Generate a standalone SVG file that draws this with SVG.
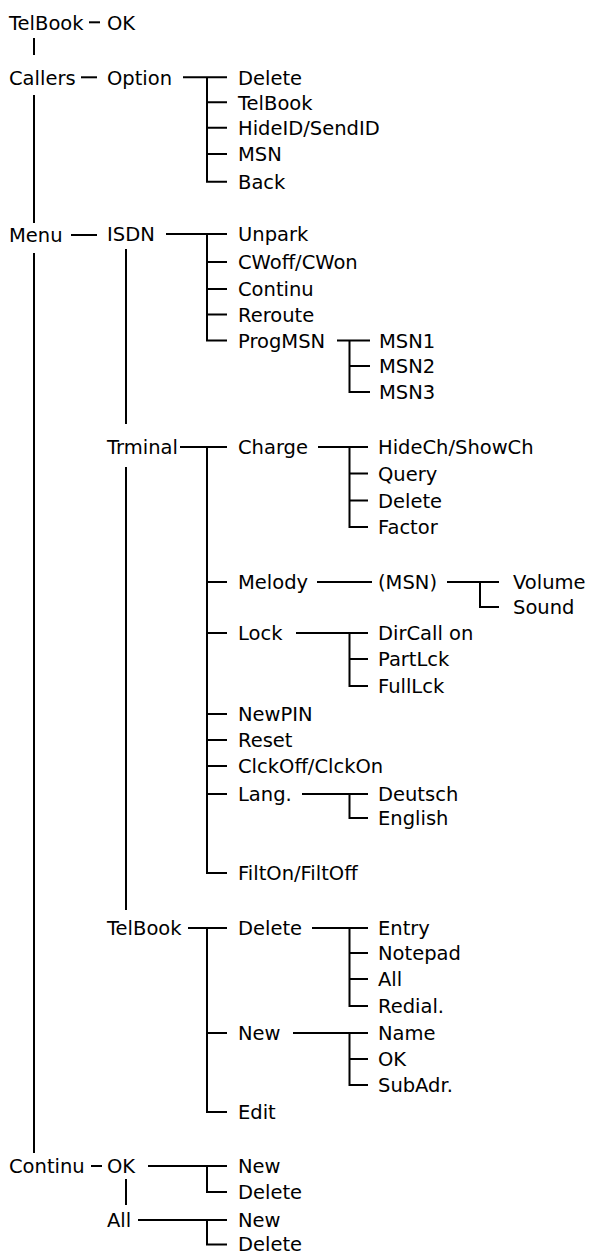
<svg xmlns="http://www.w3.org/2000/svg" width="590" height="1254" viewBox="0 0 590 1254">
<style>
text{font-family:"DejaVu Sans","Verdana",sans-serif;font-size:19.5px;fill:#000}
.c{fill:none;stroke:#000;stroke-width:2;stroke-linejoin:miter;stroke-linecap:butt}
</style>
<rect width="590" height="1254" fill="#fff"/>
<g id="connectors" class="c">
<path d="M34 38V55M34 95V223M34 253V1153"/>
<path d="M89 22.3H100"/>
<path d="M81 77.3H97"/>
<path d="M183 77.3H227M207 77.3V181.7H227M207 102.3H227M207 127.7H227M207 154H227"/>
<path d="M71 235H97"/>
<path d="M166 234H227M207 234V340.5H227M207 262H227M207 289H227M207 314.5H227"/>
<path d="M126 249V424M126 467V910"/>
<path d="M337 340.5H370M349.5 340.5V392H370M349.5 366H370"/>
<path d="M180 447H227M207 447V873H227M207 582H227M207 633H227M207 714H227M207 740H227M207 766H227M207 794H227"/>
<path d="M318 447H368M349.5 447V527H368M349.5 473.5H368M349.5 500.5H368"/>
<path d="M317 582H372"/>
<path d="M447 582H499M480 582V607H499"/>
<path d="M296 633H368M349.5 633V686H368M349.5 659H368"/>
<path d="M302 794H368M349.5 794V818H368"/>
<path d="M188 928H227M207 928V1112H227M207 1033H227"/>
<path d="M312 928H368M349.5 928V1006H368M349.5 953H368M349.5 979H368"/>
<path d="M293 1033H368M349.5 1033V1085H368M349.5 1059H368"/>
<path d="M91 1166H102"/>
<path d="M148 1166H227M207 1166V1192H227"/>
<path d="M126 1179V1205"/>
<path d="M138 1220H227M207 1220V1244.5H227"/>
</g>
<g id="n-telbook"><text x="9" y="29.5">TelBook</text></g>
<g id="n-telbook-ok"><text x="107" y="29.5">OK</text></g>
<g id="n-callers"><text x="9" y="84.5">Callers</text></g>
<g id="n-option"><text x="107" y="84.5">Option</text></g>
<g id="n-opt-delete"><text x="238" y="84.5">Delete</text></g>
<g id="n-opt-telbook"><text x="238" y="109.5">TelBook</text></g>
<g id="n-opt-hideid"><text x="238" y="135">HideID/SendID</text></g>
<g id="n-opt-msn"><text x="238" y="161.2">MSN</text></g>
<g id="n-opt-back"><text x="238" y="189">Back</text></g>
<g id="n-menu"><text x="9" y="242.2">Menu</text></g>
<g id="n-isdn"><text x="107" y="241.2">ISDN</text></g>
<g id="n-unpark"><text x="238" y="241.2">Unpark</text></g>
<g id="n-cwoff"><text x="238" y="269.2">CWoff/CWon</text></g>
<g id="n-continu-isdn"><text x="238" y="296.2">Continu</text></g>
<g id="n-reroute"><text x="238" y="321.7">Reroute</text></g>
<g id="n-progmsn"><text x="238" y="347.7">ProgMSN</text></g>
<g id="n-msn1"><text x="379" y="347.7">MSN1</text></g>
<g id="n-msn2"><text x="379" y="373.2">MSN2</text></g>
<g id="n-msn3"><text x="379" y="399.2">MSN3</text></g>
<g id="n-trminal"><text x="107" y="454.2">Trminal</text></g>
<g id="n-charge"><text x="238" y="454.2">Charge</text></g>
<g id="n-hidech"><text x="378" y="454.2">HideCh/ShowCh</text></g>
<g id="n-query"><text x="378" y="480.7">Query</text></g>
<g id="n-ch-delete"><text x="378" y="507.7">Delete</text></g>
<g id="n-factor"><text x="378" y="534.2">Factor</text></g>
<g id="n-melody"><text x="238" y="589.2">Melody</text></g>
<g id="n-msn-paren"><text x="378" y="589.2">(MSN)</text></g>
<g id="n-volume"><text x="513" y="589.2">Volume</text></g>
<g id="n-sound"><text x="513" y="614.2">Sound</text></g>
<g id="n-lock"><text x="238" y="640.2">Lock</text></g>
<g id="n-dircall"><text x="378" y="640.2">DirCall on</text></g>
<g id="n-partlck"><text x="378" y="666.2">PartLck</text></g>
<g id="n-fulllck"><text x="378" y="693.2">FullLck</text></g>
<g id="n-newpin"><text x="238" y="721.2">NewPIN</text></g>
<g id="n-reset"><text x="238" y="747.2">Reset</text></g>
<g id="n-clckoff"><text x="238" y="773.2">ClckOff/ClckOn</text></g>
<g id="n-lang"><text x="238" y="801.2">Lang.</text></g>
<g id="n-deutsch"><text x="378" y="801.2">Deutsch</text></g>
<g id="n-english"><text x="378" y="825.2">English</text></g>
<g id="n-filton"><text x="238" y="880.2">FiltOn/FiltOff</text></g>
<g id="n-telbook2"><text x="107" y="935.2">TelBook</text></g>
<g id="n-tb-delete"><text x="238" y="935.2">Delete</text></g>
<g id="n-entry"><text x="378" y="935.2">Entry</text></g>
<g id="n-notepad"><text x="378" y="960.2">Notepad</text></g>
<g id="n-all-del"><text x="378" y="986.2">All</text></g>
<g id="n-redial"><text x="378" y="1013.2">Redial.</text></g>
<g id="n-tb-new"><text x="238" y="1040.2">New</text></g>
<g id="n-name"><text x="378" y="1040.2">Name</text></g>
<g id="n-new-ok"><text x="378" y="1066.2">OK</text></g>
<g id="n-subadr"><text x="378" y="1092.2">SubAdr.</text></g>
<g id="n-edit"><text x="238" y="1119.2">Edit</text></g>
<g id="n-continu"><text x="9" y="1173.2">Continu</text></g>
<g id="n-cont-ok"><text x="107" y="1173.2">OK</text></g>
<g id="n-ok-new"><text x="238" y="1173.2">New</text></g>
<g id="n-ok-delete"><text x="238" y="1199.2">Delete</text></g>
<g id="n-cont-all"><text x="107" y="1227.2">All</text></g>
<g id="n-all-new"><text x="238" y="1227.2">New</text></g>
<g id="n-all-delete"><text x="238" y="1251">Delete</text></g>
</svg>
